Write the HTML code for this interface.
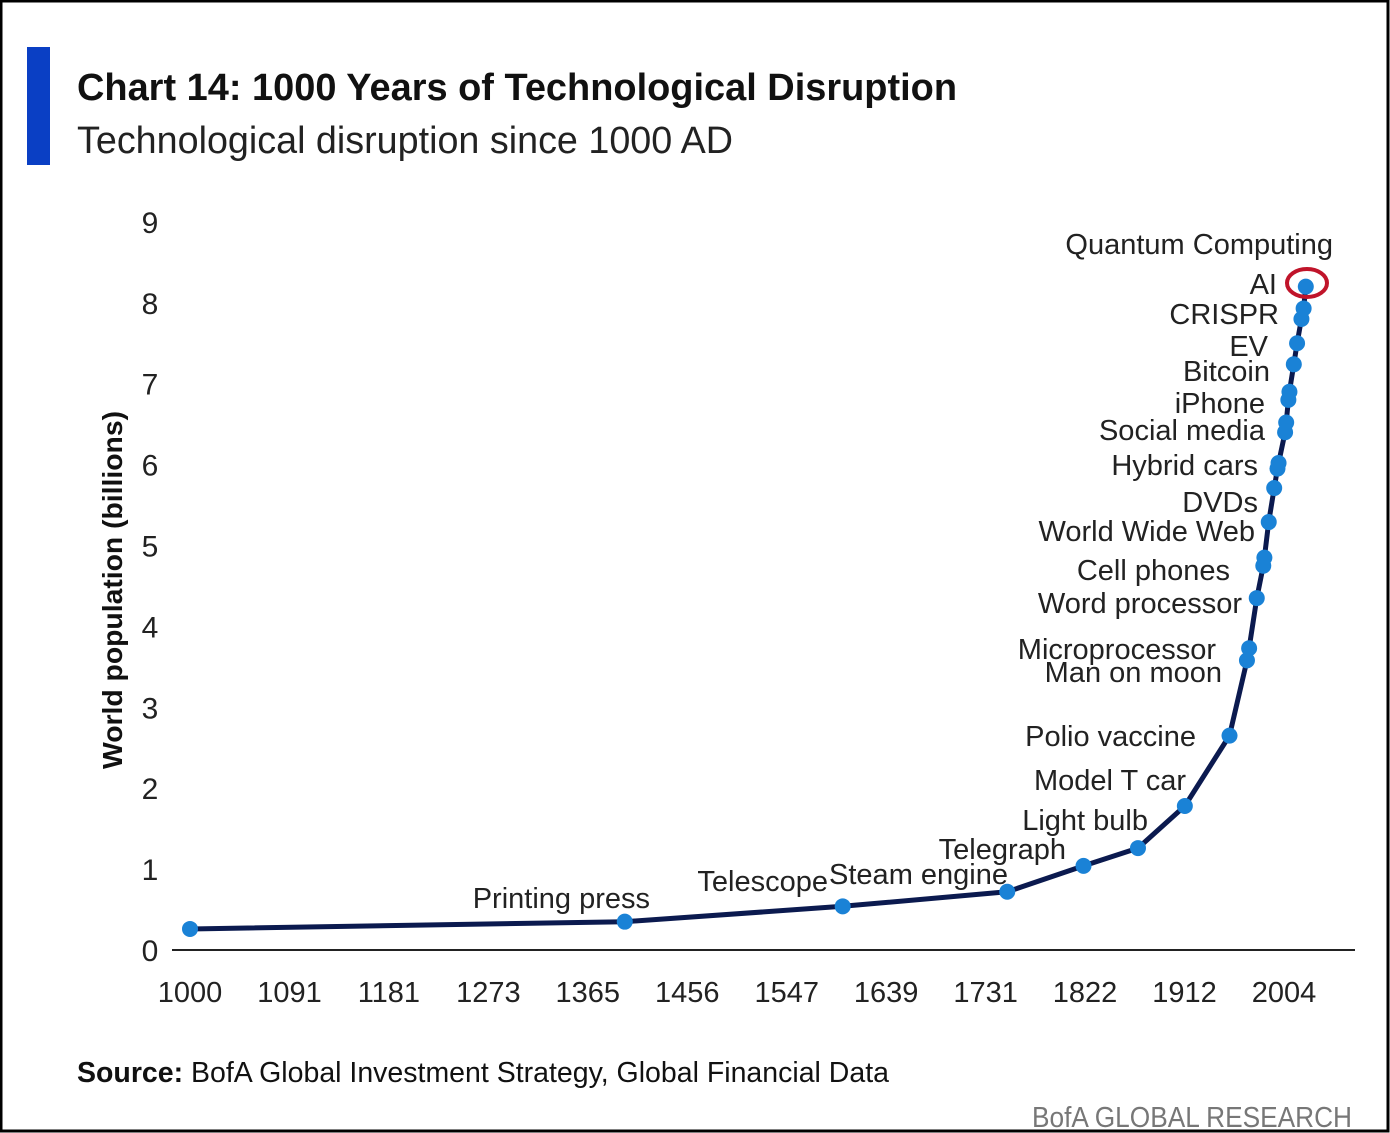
<!DOCTYPE html>
<html><head><meta charset="utf-8"><style>
html,body{margin:0;padding:0;background:#fff}
svg{display:block}
text{font-family:"Liberation Sans",sans-serif}
</style></head><body>
<svg id="chart" width="1390" height="1133" viewBox="0 0 1390 1133">
<rect x="1" y="1" width="1387" height="1130" fill="#fff" stroke="#000" stroke-width="3"/>
<rect x="27" y="47" width="23" height="118" fill="#0a3fc4"/>
<text x="77" y="100" font-size="38" font-weight="bold" textLength="880" lengthAdjust="spacingAndGlyphs" fill="#111">Chart 14: 1000 Years of Technological Disruption</text>
<text x="77" y="153" font-size="38" textLength="656" lengthAdjust="spacingAndGlyphs" fill="#222">Technological disruption since 1000 AD</text>
<text transform="translate(122,590) rotate(-90)" text-anchor="middle" font-size="28" font-weight="bold" textLength="358" lengthAdjust="spacingAndGlyphs" fill="#111">World population (billions)</text>
<g id="yticks"></g>
<g id="xticks"></g>
<line x1="172" y1="950" x2="1355" y2="950" stroke="#222" stroke-width="2"/>
<g id="series"></g>
<g id="labels" font-size="29" fill="#222" text-anchor="end">
<text x="1333" y="254">Quantum Computing</text>
<text x="1277" y="294">AI</text>
<text x="1279" y="324">CRISPR</text>
<text x="1268" y="356">EV</text>
<text x="1270" y="381">Bitcoin</text>
<text x="1265" y="413">iPhone</text>
<text x="1265" y="440">Social media</text>
<text x="1258" y="475">Hybrid cars</text>
<text x="1258" y="512">DVDs</text>
<text x="1255" y="541">World Wide Web</text>
<text x="1230" y="580">Cell phones</text>
<text x="1242" y="613">Word processor</text>
<text x="1216" y="659">Microprocessor</text>
<text x="1222" y="682">Man on moon</text>
<text x="1196" y="746">Polio vaccine</text>
<text x="1186" y="790">Model T car</text>
<text x="1148" y="830">Light bulb</text>
<text x="1066" y="859">Telegraph</text>
<text x="1008" y="884">Steam engine</text>
<text x="828" y="891">Telescope</text>
<text x="650" y="908">Printing press</text>
</g>
<ellipse cx="1307" cy="283" rx="20" ry="14" fill="none" stroke="#c0142a" stroke-width="4"/>
<text x="77" y="1082" font-size="29" fill="#111" textLength="812" lengthAdjust="spacingAndGlyphs"><tspan font-weight="bold">Source:</tspan> BofA Global Investment Strategy, Global Financial Data</text>
<text x="1352" y="1127" font-size="29" fill="#777" text-anchor="end" textLength="320" lengthAdjust="spacingAndGlyphs">BofA GLOBAL RESEARCH</text>
</svg>
<script>
const years = [1000,1399,1599,1750,1820,1870,1913,1954,1970,1972,1979,1985,1986,1990,1995,1998,1999,2005,2006,2008,2009,2013,2016,2020,2022,2024];
const population = [0.26,0.35,0.54,0.72,1.04,1.26,1.78,2.65,3.58,3.73,4.35,4.75,4.85,5.29,5.71,5.95,6.02,6.4,6.52,6.8,6.9,7.24,7.5,7.8,7.93,8.2];
const xTickLabels = ["1000","1091","1181","1273","1365","1456","1547","1639","1731","1822","1912","2004"];
const yTickLabels = [0,1,2,3,4,5,6,7,8,9];
const NS="http://www.w3.org/2000/svg";
function xScale(v){return 190+(v-1000)*(1094/1004);}
function yScale(v){return 950-v*80.9;}
function mk(tag,attrs,parent){const e=document.createElementNS(NS,tag);for(const k in attrs)e.setAttribute(k,attrs[k]);parent.appendChild(e);return e;}
const yg=document.getElementById('yticks');
yTickLabels.forEach(v=>{const t=mk('text',{x:150,y:yScale(v)+11,'font-size':30,'text-anchor':'middle',fill:'#222'},yg);


t.textContent=v;});
const xg=document.getElementById('xticks');
xTickLabels.forEach((v,i)=>{const t=mk('text',{x:190+i*99.45,y:1002,'font-size':29,'text-anchor':'middle',fill:'#222'},xg);


t.textContent=v;});
const sg=document.getElementById('series');
let d=years.map((y,i)=>(i?'L':'M')+xScale(y).toFixed(1)+','+yScale(population[i]).toFixed(1)).join(' ');
const p=mk('path',{d:d,fill:'none',stroke:'#0b1a4f','stroke-width':5,'stroke-linejoin':'round'},sg);


years.forEach((y,i)=>{const c=mk('circle',{cx:xScale(y),cy:yScale(population[i]),r:8,fill:'#1a82d6'},sg);

});
</script>
</body></html>
